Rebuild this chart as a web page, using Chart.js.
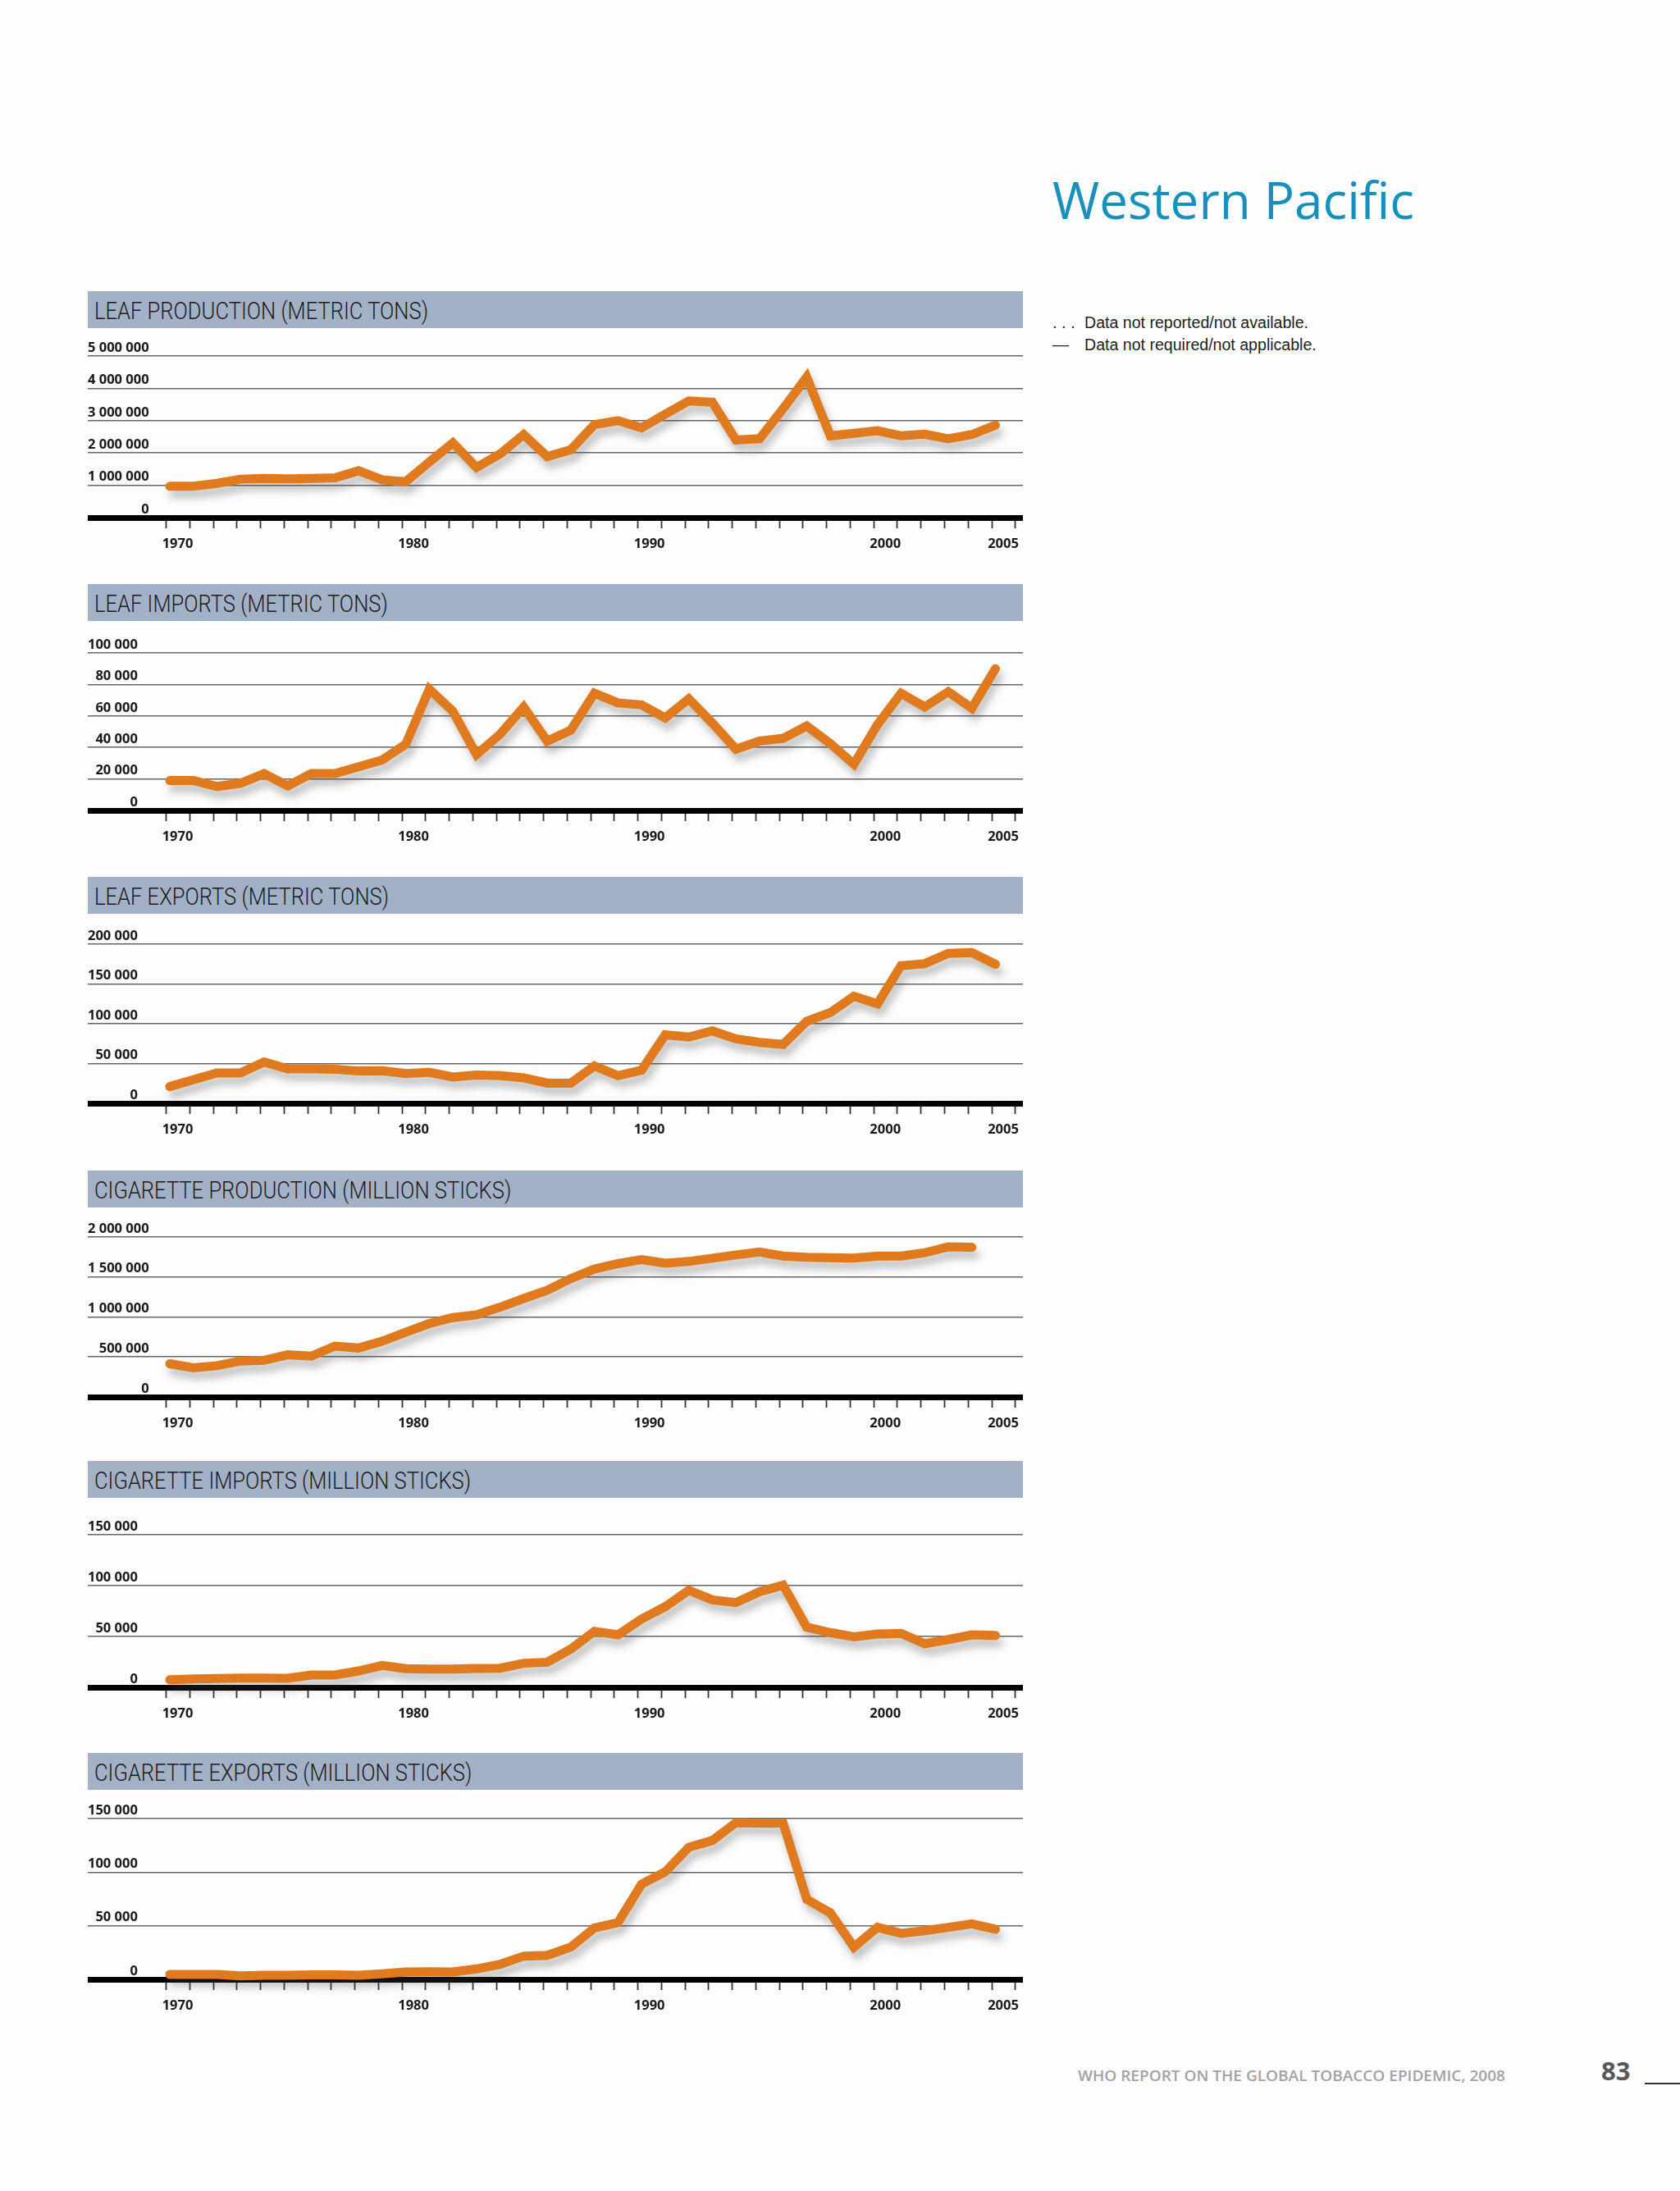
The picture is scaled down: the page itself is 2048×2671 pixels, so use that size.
<!DOCTYPE html>
<html><head><meta charset="utf-8">
<script src="https://cdn.jsdelivr.net/npm/chart.js@4.4.0/dist/chart.umd.min.js"></script>
<style>
html,body{margin:0;padding:0;background:#fdfdfd;}
body{width:2048px;height:2671px;position:relative;overflow:hidden;font-family:'Open Sans',sans-serif;}
.band{position:absolute;left:107px;width:1140px;height:45px;background:#a3b1c6;}
.band span{position:absolute;left:8px;top:1px;line-height:45px;font-family:Roboto,'Liberation Sans',sans-serif;font-weight:300;font-size:30px;color:#1c1c1c;white-space:nowrap;transform-origin:0 50%;}
#title{position:absolute;left:1283px;top:211px;font-family:'Open Sans',sans-serif;font-size:63px;line-height:1;color:#1690bd;white-space:nowrap;transform-origin:0 50%;}
.leg{position:absolute;font-family:'Liberation Sans','Open Sans',sans-serif;font-size:20px;line-height:27px;color:#1e1e1e;white-space:nowrap;transform-origin:0 50%;}
#footer{position:absolute;left:1314px;top:2518px;font-family:'Open Sans',sans-serif;font-weight:600;font-size:18px;line-height:24px;color:#a2a2aa;white-space:nowrap;transform-origin:0 50%;}
#pnum{position:absolute;left:1952px;top:2506px;font-family:'Open Sans',sans-serif;font-weight:700;font-size:31px;line-height:36px;color:#58585b;}
#pline{position:absolute;left:2005px;top:2539px;width:43px;height:2px;background:#333;}
canvas{position:absolute;left:107px;}
</style>
</head>
<body>
<div id="title">Western Pacific</div>
<div class="leg" id="leg1" style="left:1283px;top:380px;">. . .</div>
<div class="leg" id="leg1t" style="left:1322px;top:380px;">Data not reported/not available.</div>
<div class="leg" id="leg2" style="left:1283px;top:407px;">—</div>
<div class="leg" id="leg2t" style="left:1322px;top:407px;">Data not required/not applicable.</div>
<div id="footer">WHO REPORT ON THE GLOBAL TOBACCO EPIDEMIC, 2008</div>
<div id="pnum">83</div>
<div id="pline"></div>
<script>
// ---------- DATA ----------
const years = [1970,1971,1972,1973,1974,1975,1976,1977,1978,1979,1980,1981,1982,1983,1984,1985,1986,1987,1988,1989,1990,1991,1992,1993,1994,1995,1996,1997,1998,1999,2000,2001,2002,2003,2004,2005];
const tickYears = [1970,1971,1972,1973,1974,1975,1976,1977,1978,1979,1980,1981,1982,1983,1984,1985,1986,1987,1988,1989,1990,1991,1992,1993,1994,1995,1996,1997,1998,1999,2000,2001,2002,2003,2004,2005,2006];
const xLabelYears = [1970,1980,1990,2000,2005];

const chartTitles = ['LEAF PRODUCTION (METRIC TONS)','LEAF IMPORTS (METRIC TONS)','LEAF EXPORTS (METRIC TONS)','CIGARETTE PRODUCTION (MILLION STICKS)','CIGARETTE IMPORTS (MILLION STICKS)','CIGARETTE EXPORTS (MILLION STICKS)'];

const leafProduction = [970000,970000,1060000,1190000,1210000,1200000,1210000,1230000,1450000,1170000,1110000,1720000,2310000,1550000,1970000,2570000,1890000,2100000,2880000,3000000,2780000,3200000,3610000,3570000,2400000,2440000,3370000,4350000,2530000,2610000,2690000,2530000,2580000,2440000,2570000,2860000];
const leafImports = [19000,19000,15200,17300,23400,15600,23400,23400,27700,32000,42000,77000,63000,35500,48400,65700,44000,51000,74400,68300,67000,58800,70900,55400,38900,44100,45800,53600,42400,29400,54500,74400,65700,75300,64900,90000];
const leafExports = [21000,29700,38200,38200,51900,43300,43300,42700,40600,41000,37500,38900,33100,35500,34800,32000,25300,25300,46800,34800,41600,86000,83300,91000,81000,76500,74000,103000,114000,134500,125000,173000,175400,188400,189400,174700];
const cigProduction = [415000,364000,391000,449000,459000,527000,510000,636000,612000,697000,810000,918000,993000,1027000,1122000,1231000,1333000,1480000,1599000,1667000,1718000,1673000,1694000,1735000,1776000,1813000,1762000,1745000,1741000,1735000,1762000,1762000,1803000,1878000,1871000];
const cigImports = [7500,8300,8600,9100,9100,8900,12100,12100,16100,21500,18300,18000,18000,18500,18800,23700,24700,37600,55100,51600,67200,79300,95400,86000,83300,94000,100500,59100,53800,49700,52400,53000,43000,47000,51600,51000];
const cigExports = [4600,4600,4600,3300,3800,3800,4300,4300,3800,5100,6900,7100,6900,9700,14000,21700,22400,30100,48000,53000,88800,100300,123200,129600,146200,145700,145700,74700,62000,30100,48500,42900,45400,48500,51800,46700];

const seriesValues = [leafProduction, leafImports, leafExports, cigProduction, cigImports, cigExports];
const yMax  = [5000000, 100000, 200000, 2000000, 150000, 150000];
const yStep = [1000000, 20000, 50000, 500000, 50000, 50000];

// ---------- LAYOUT ----------
const axisY = [631, 988, 1345, 1703, 2057, 2413];
const gridTopY = [434, 796, 1151, 1508, 1871, 2217];
const tickShift = 0.156;   // tick marks sit slightly left of the data points in the original

const fmt = v => String(v).replace(/\B(?=(\d{3})+(?!\d))/g, ' ');
const tickFont = {family:"'Open Sans', sans-serif", weight:'bold', size:16.5};

const shadowPlugin = {
  id:'lineShadow',
  beforeDatasetDraw(c){ const x=c.ctx; x.save(); x.shadowColor='rgba(70,70,70,0.32)'; x.shadowBlur=10; x.shadowOffsetX=4; x.shadowOffsetY=9; },
  afterDatasetDraw(c){ c.ctx.restore(); }
};

const bandSpans = [];
seriesValues.forEach((vals, i) => {
  const band = document.createElement('div');
  band.className = 'band';
  band.style.top = (axisY[i] - 276) + 'px';
  const sp = document.createElement('span');
  sp.textContent = chartTitles[i];
  band.appendChild(sp);
  document.body.appendChild(band);
  bandSpans.push(sp);

  const plotH = axisY[i] - gridTopY[i];
  const H = 30 + plotH + 50;
  const cv = document.createElement('canvas');
  cv.width = 1140; cv.height = H;
  cv.style.top = (gridTopY[i] - 30) + 'px';
  cv.style.width = '1140px'; cv.style.height = H + 'px';
  document.body.appendChild(cv);

  new Chart(cv, {
    type: 'line',
    data: { datasets: [{
      data: vals.map((v, k) => ({x: years[k], y: v})),
      borderColor: '#e07a1f', borderWidth: 11, pointRadius: 0, tension: 0,
      borderJoinStyle: 'miter', borderCapStyle: 'round', clip: false
    }]},
    options: {
      responsive: false, animation: false,
      layout: { padding: {top: 30, left: 0, right: 0, bottom: 0} },
      plugins: { legend: {display: false}, tooltip: {enabled: false} },
      scales: {
        x: {
          type: 'linear', min: 1966.523, max: 2006.165,
          afterBuildTicks: sc => { sc.ticks = tickYears.map(v => ({value: v - tickShift})); },
          afterFit: sc => { sc.height = 50; },
          grid: { drawOnChartArea: false, drawTicks: true, tickLength: 13, tickColor: '#333', tickWidth: 1.8 },
          border: { display: true, color: '#000', width: 7 },
          ticks: { autoSkip: false, maxRotation: 0, padding: 9, labelOffset: 14, color: '#1a1a1a', font: tickFont,
                   callback: v => { const yr = Math.round(v); return xLabelYears.includes(yr) ? String(yr) : ''; } }
        },
        y: {
          min: 0, max: yMax[i],
          afterFit: sc => { sc.width = 0; },
          ticks: { stepSize: yStep[i], mirror: true, crossAlign: 'far', padding: 0, labelOffset: -10, color: '#1a1a1a', font: tickFont,
                   callback: v => fmt(v) },
          grid: { color: '#666', lineWidth: 1.6, drawTicks: false },
          border: { display: false }
        }
      }
    },
    plugins: [shadowPlugin]
  });
});

function fit(el, w){ el.style.transform = ''; const r = el.getBoundingClientRect().width; const s = w / r; el.style.transform = 'scaleX(' + s + ')'; return s; }
function fitAll(){
  const s = fit(bandSpans[0], 407);
  bandSpans.forEach(sp => sp.style.transform = 'scaleX(' + s + ')');
  fit(document.getElementById('title'), 441);
  const ls = fit(document.getElementById('leg1t'), 273);
  document.getElementById('leg2t').style.transform = 'scaleX(' + ls + ')';
  fit(document.getElementById('footer'), 521);
}
fitAll();
if (document.fonts && document.fonts.ready) document.fonts.ready.then(fitAll);
</script>
</body></html>
